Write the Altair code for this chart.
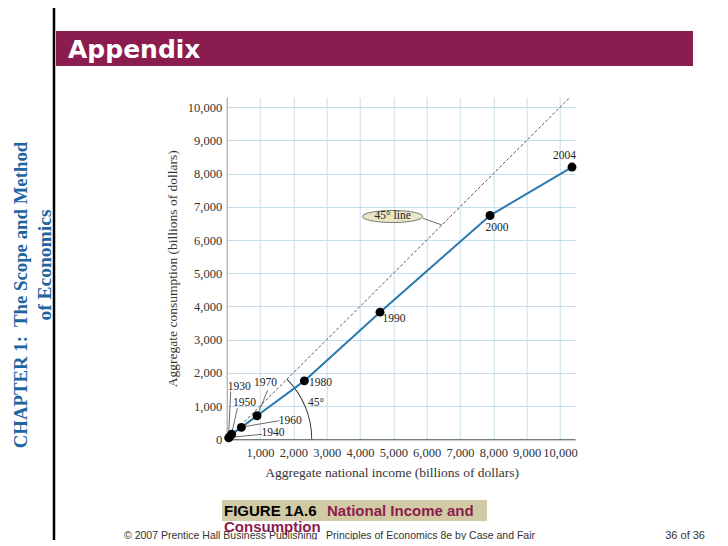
import math
import altair as alt
import pandas as pd

# ---------------- data ----------------
years = ["1930", "1940", "1950", "1960", "1970", "1980", "1990", "2000", "2004"]
national_income = [60, 90, 150, 440, 910, 2330, 4600, 7900, 10360]
consumption = [45, 75, 150, 360, 710, 1760, 3830, 6740, 8200]

x_ticks = [1000, 2000, 3000, 4000, 5000, 6000, 7000, 8000, 9000, 10000]
y_ticks = [0, 1000, 2000, 3000, 4000, 5000, 6000, 7000, 8000, 9000, 10000]

# year-label anchor points (data units)
label_years = ["1930", "1940", "1950", "1960", "1970", "1980", "1990", "2000", "2004"]
label_x = [378, 1390, 535, 1910, 1165, 2811, 5018, 8111, 10135]
label_y = [1584, 181, 1084, 551, 1684, 1684, 3623, 6355, 8533]

# leader lines from labels to points (data units)
lead_years = ["1930", "1940", "1950", "1960", "1970"]
lead_x = [120, 1060, 320, 1580, 1230]
lead_y = [1440, 150, 940, 560, 1480]
lead_x2 = [55, 110, 150, 460, 920]
lead_y2 = [60, 60, 170, 370, 730]

diag_x = [0, 10300]
diag_y = [0, 10300]

ellipse_x = [4979]
ellipse_y = [6711]
ell_lead_x, ell_lead_y, ell_lead_x2, ell_lead_y2 = [5886], [6657], [6456], [6455]

angle_label_x, angle_label_y = [2682], [1084]

# ---------------- styling ----------------
W, H = 348.3, 342.3
X0, Y0 = 226.7, 97.0  # page position of plot origin
SERIF = "Liberation Serif"
SANS = "Liberation Sans"
MAGENTA = "#8B1C50"
BLUE_TXT = "#1E64A0"
GRID = "#C6DEEB"

xs = alt.Scale(domain=[0, 10450], nice=False, zero=True)
ys = alt.Scale(domain=[0, 10310], nice=False, zero=True)

xaxis = alt.Axis(values=x_ticks, format=",d", title="Aggregate national income (billions of dollars)",
                 grid=True, gridColor=GRID, gridWidth=1, ticks=False, domainColor="#555",
                 labelPadding=7, titlePadding=7, labelFlush=False, labelOverlap=False,
                 titleX=165, titleAlign="center")
yaxis = alt.Axis(values=y_ticks, format=",d", title="Aggregate consumption (billions of dollars)",
                 grid=True, gridColor=GRID, gridWidth=1, ticks=False, domainColor="#9a9a9a",
                 labelPadding=5, titlePadding=8, labelFlush=False, labelOverlap=False)


def X(f="x"):
    return alt.X(f"{f}:Q", scale=xs, axis=xaxis)


def Y(f="y"):
    return alt.Y(f"{f}:Q", scale=ys, axis=yaxis)


main_df = pd.DataFrame({"x": national_income, "y": consumption, "year": years})
lab_df = pd.DataFrame({"x": label_x, "y": label_y, "year": label_years})
lead_df = pd.DataFrame({"x": lead_x, "y": lead_y, "x2": lead_x2, "y2": lead_y2, "year": lead_years})
diag_df = pd.DataFrame({"x": diag_x, "y": diag_y})
ell_df = pd.DataFrame({"x": ellipse_x, "y": ellipse_y, "t": ["45° line"]})
ell_lead_df = pd.DataFrame({"x": ell_lead_x, "y": ell_lead_y, "x2": ell_lead_x2, "y2": ell_lead_y2})
ang_df = pd.DataFrame({"x": angle_label_x, "y": angle_label_y, "t": ["45°"]})
origin_df = pd.DataFrame({"x": [0], "y": [0]})
one = pd.DataFrame({"a": [0]})

diag = alt.Chart(diag_df).mark_line(color="#444", strokeWidth=0.9, strokeDash=[3, 2]).encode(x=X(), y=Y())
arc = alt.Chart(origin_df).mark_arc(radius=85.5, radius2=84.6, theta=math.pi / 4, theta2=math.pi / 2,
                                    color="#333").encode(x=X(), y=Y())
leaders = alt.Chart(lead_df).mark_rule(color="#444", strokeWidth=0.8).encode(
    x=X(), y=Y(), x2="x2:Q", y2="y2:Q")
ell_lead = alt.Chart(ell_lead_df).mark_rule(color="#444", strokeWidth=0.8).encode(
    x=X(), y=Y(), x2="x2:Q", y2="y2:Q")
line = alt.Chart(main_df).mark_line(color="#2A78B0", strokeWidth=2).encode(x=X(), y=Y(), order="x:Q")
pts = alt.Chart(main_df).mark_circle(size=80, color="black", opacity=1).encode(x=X(), y=Y())
labs = alt.Chart(lab_df).mark_text(font=SERIF, fontSize=11.5, color="#222", align="center",
                                   baseline="middle").encode(x=X(), y=Y(), text="year:N")
ang = alt.Chart(ang_df).mark_text(font=SERIF, fontSize=11.5, color="#222", align="center",
                                  baseline="middle").encode(x=X(), y=Y(), text="t:N")
ell = alt.Chart(ell_df).mark_point(shape="M-1,0A1,0.2,0,1,1,1,0A1,0.2,0,1,1,-1,0Z", size=3600,
                                   filled=True, fill="#E9E7C8", stroke="#555", strokeWidth=0.8,
                                   opacity=1).encode(x=X(), y=Y())
ell_txt = alt.Chart(ell_df).mark_text(font=SERIF, fontSize=11.5, color="#222", align="center",
                                      baseline="middle").encode(x=X(), y=Y(), text="t:N")


def px(v):
    return v - X0


def py(v):
    return v - Y0


left_rule = alt.Chart(one).mark_rule(color="black", strokeWidth=2.5).encode(
    x=alt.value(px(54)), y=alt.value(py(8)), y2=alt.value(py(546)))
title_bar = alt.Chart(one).mark_rect(color=MAGENTA).encode(
    x=alt.value(px(56)), x2=alt.value(px(693)), y=alt.value(py(31)), y2=alt.value(py(66)))
appendix = alt.Chart(one).mark_text(text="Appendix", font="DejaVu Sans", fontWeight="bold", fontSize=25,
                                    color="white", align="left", baseline="alphabetic").encode(
    x=alt.value(px(68)), y=alt.value(py(58)))
chap1 = alt.Chart(one).mark_text(text="CHAPTER 1:\u00a0 The Scope and Method", angle=270, font=SERIF,
                                 fontWeight="bold", fontSize=18.8, color=BLUE_TXT, align="center",
                                 baseline="middle").encode(x=alt.value(px(21)), y=alt.value(py(295)))
chap2 = alt.Chart(one).mark_text(text="of Economics", angle=270, font=SERIF, fontWeight="bold",
                                 fontSize=19.5, color=BLUE_TXT, align="center", baseline="middle").encode(
    x=alt.value(px(45)), y=alt.value(py(265)))
foot_box = alt.Chart(one).mark_rect(color="#D2CAA4").encode(
    x=alt.value(px(222)), x2=alt.value(px(487)), y=alt.value(py(500)), y2=alt.value(py(521)))
fig_lab = alt.Chart(one).mark_text(text="FIGURE 1A.6", font=SANS, fontWeight="bold", fontSize=15,
                                   color="black", align="left", baseline="alphabetic").encode(
    x=alt.value(px(224)), y=alt.value(py(516)))
fig_t1 = alt.Chart(one).mark_text(text="National Income and", font=SANS, fontWeight="bold", fontSize=15,
                                  color=MAGENTA, align="left", baseline="alphabetic").encode(
    x=alt.value(px(327)), y=alt.value(py(516)))
fig_t2 = alt.Chart(one).mark_text(text="Consumption", font=SANS, fontWeight="bold", fontSize=15,
                                  color=MAGENTA, align="left", baseline="alphabetic").encode(
    x=alt.value(px(224)), y=alt.value(py(532)))
copy_t = alt.Chart(one).mark_text(
    text="© 2007 Prentice Hall Business Publishing\u00a0\u00a0 Principles of Economics 8e by Case and Fair",
    font=SANS, fontSize=10.5, color="#333", align="left", baseline="alphabetic").encode(
    x=alt.value(px(124)), y=alt.value(py(539)))
page_t = alt.Chart(one).mark_text(text="36 of 36", font=SANS, fontSize=11, color="#333", align="right",
                                  baseline="alphabetic").encode(x=alt.value(px(705)), y=alt.value(py(539)))

chart = alt.layer(
    diag, arc, leaders, ell_lead, line, pts, labs, ang, ell, ell_txt,
    left_rule, title_bar, appendix, chap1, chap2, foot_box, fig_lab, fig_t1, fig_t2, copy_t, page_t
).properties(
    width=W, height=H,
    autosize=alt.AutoSizeParams(type="none"),
    padding={"left": X0 - 8, "top": Y0 - 8, "right": 712 - (X0 - 8) - W, "bottom": 532 - (Y0 - 8) - H},
    background="white",
).configure_view(stroke=None).configure_axis(
    labelFont=SERIF, labelFontSize=12.5, labelColor="#333",
    titleFont=SERIF, titleFontSize=13.5, titleFontWeight="normal", titleColor="#333",
)

chart.save("out.html", embed_options={"renderer": "svg", "actions": False})
